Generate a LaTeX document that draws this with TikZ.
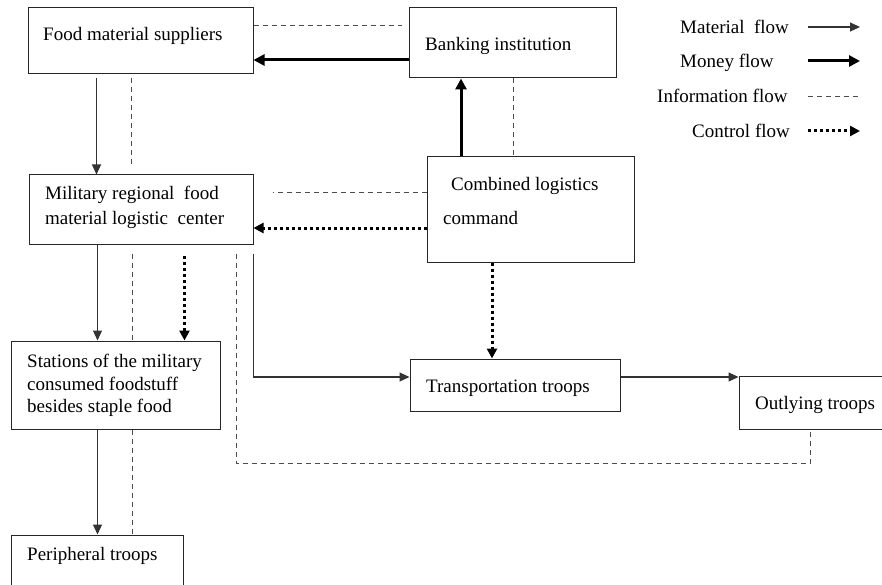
\documentclass[tikz,border=0pt]{standalone}
\usepackage{fontspec}
\setmainfont{Liberation Serif}
\usetikzlibrary{arrows.meta}
\begin{document}
\begin{tikzpicture}[x=1pt,y=-1pt,
  box/.style={draw=black!85,line width=1pt,fill=white,inner sep=0pt},
  txt/.style={anchor=base west,inner sep=0pt,font=\fontsize{19pt}{22pt}\selectfont},
  mat/.style={draw=black!80,line width=1.1pt,-{Triangle[length=10pt,width=9pt]}},
  money/.style={draw=black,line width=3pt,-{Triangle[length=11pt,width=11pt]}},
  info/.style={draw=black!70,line width=0.9pt,dash pattern=on 5pt off 4pt},
  ctrl/.style={draw=black,line width=3pt,dash pattern=on 3pt off 3pt,-{Triangle[length=10pt,width=10pt]}}]
\useasboundingbox (0,0) rectangle (882,585);
% boxes
\node[box,minimum width=225pt,minimum height=66pt] (sup) at (140.5,41) {};
\node[box,minimum width=207pt,minimum height=70pt] (bank) at (512.5,43) {};
\node[box,minimum width=207pt,minimum height=105pt] (cmd) at (530.5,209.5) {};
\node[box,minimum width=224pt,minimum height=69pt] (mil) at (141,209.5) {};
\node[box,minimum width=209pt,minimum height=88pt] (sta) at (115.5,385) {};
\node[box,minimum width=172pt,minimum height=64pt] (per) at (97,567) {};
\node[box,minimum width=210pt,minimum height=52pt] (tra) at (515,385) {};
\node[box,minimum width=151pt,minimum height=53pt] (out) at (814.5,402.5) {};
% texts
\node[txt] (tsup) at (43,41) {Food material suppliers};
\node[txt] (tbank) at (425,51) {Banking institution};
\node[txt] (tcmd1) at (451,191) {Combined logistics};
\node[txt] (tcmd2) at (443,224) {command};
\node[txt] (tmil1) at (45,200) {Military regional\ \ food};
\node[txt] (tmil2) at (45,224) {material logistic\ \ center};
\node[txt] (tsta1) at (27,367) {Stations of the military};
\node[txt] (tsta2) at (27,390) {consumed foodstuff};
\node[txt] (tsta3) at (27,412) {besides staple food};
\node[txt] (tper) at (27,560) {Peripheral troops};
\node[txt] (ttra) at (426,392) {Transportation troops};
\node[txt] (tout) at (755,409) {Outlying troops};
% connectors
\draw[mat] ([shift={(69,4)}]sup.south west) -- ([shift={(68,0)}]mil.north west);
\draw[info] ([shift={(104,4)}]sup.south west) -- ([shift={(103,-8)}]mil.north west);
\draw[money] ([shift={(0,17)}]bank.west) -- ([shift={(0,19)}]sup.east);
\draw[info] ([shift={(0,-16)}]sup.east) -- ([shift={(-7,-18)}]bank.west);
\draw[money] ([shift={(-69.5,0)}]cmd.north) -- ([shift={(-51.5,0)}]bank.south);
\draw[info] ([shift={(0.5,0)}]bank.south) -- ([shift={(-17.5,0)}]cmd.north);
\draw[info] ([shift={(0,-17.5)}]cmd.west) -- ([shift={(19,-17.5)}]mil.east);
\draw[ctrl] ([shift={(0,18.5)}]cmd.west) -- ([shift={(0,18.5)}]mil.east);
\draw[mat] ([shift={(69,0)}]mil.south west) -- ([shift={(87,0)}]sta.north west);
\draw[info] ([shift={(104,9)}]mil.south west) -- ([shift={(122,0)}]sta.north west);
\draw[ctrl] ([shift={(156,11)}]mil.south west) -- ([shift={(174,0)}]sta.north west);
\draw[info] ([shift={(208,9)}]mil.south west) |- ([shift={(-4.5,34)}]out.south) -- ([shift={(-4.5,0)}]out.south);
\draw[mat] ([shift={(225,9)}]mil.south west) |- ([shift={(0,-8)}]tra.west);
\draw[ctrl] ([shift={(-38.5,0)}]cmd.south) -- ([shift={(-23,0)}]tra.north);
\draw[mat] ([shift={(0,-8)}]tra.east) -- ([shift={(0,-25.5)}]out.west);
\draw[mat] ([shift={(87,0)}]sta.south west) -- ([shift={(87,0)}]per.north west);
\draw[info] ([shift={(122,0)}]sta.south west) -- ([shift={(122,0)}]per.north west);
% legend
\node[txt] (lg1) at (680,34) {Material\ \ flow};
\node[txt] (lg2) at (680,68) {Money flow};
\node[txt] (lg3) at (657,103) {Information flow};
\node[txt] (lg4) at (692,138) {Control flow};
\coordinate (l1a) at (808,27); \coordinate (l1b) at (860,27);
\coordinate (l2a) at (808,61); \coordinate (l2b) at (860,61);
\coordinate (l3a) at (808,96); \coordinate (l3b) at (860,96);
\coordinate (l4a) at (808,131); \coordinate (l4b) at (860,131);
\draw[mat] (l1a) -- (l1b);
\draw[money] (l2a) -- (l2b);
\draw[info] (l3a) -- (l3b);
\draw[ctrl] (l4a) -- (l4b);
\end{tikzpicture}
\end{document}
